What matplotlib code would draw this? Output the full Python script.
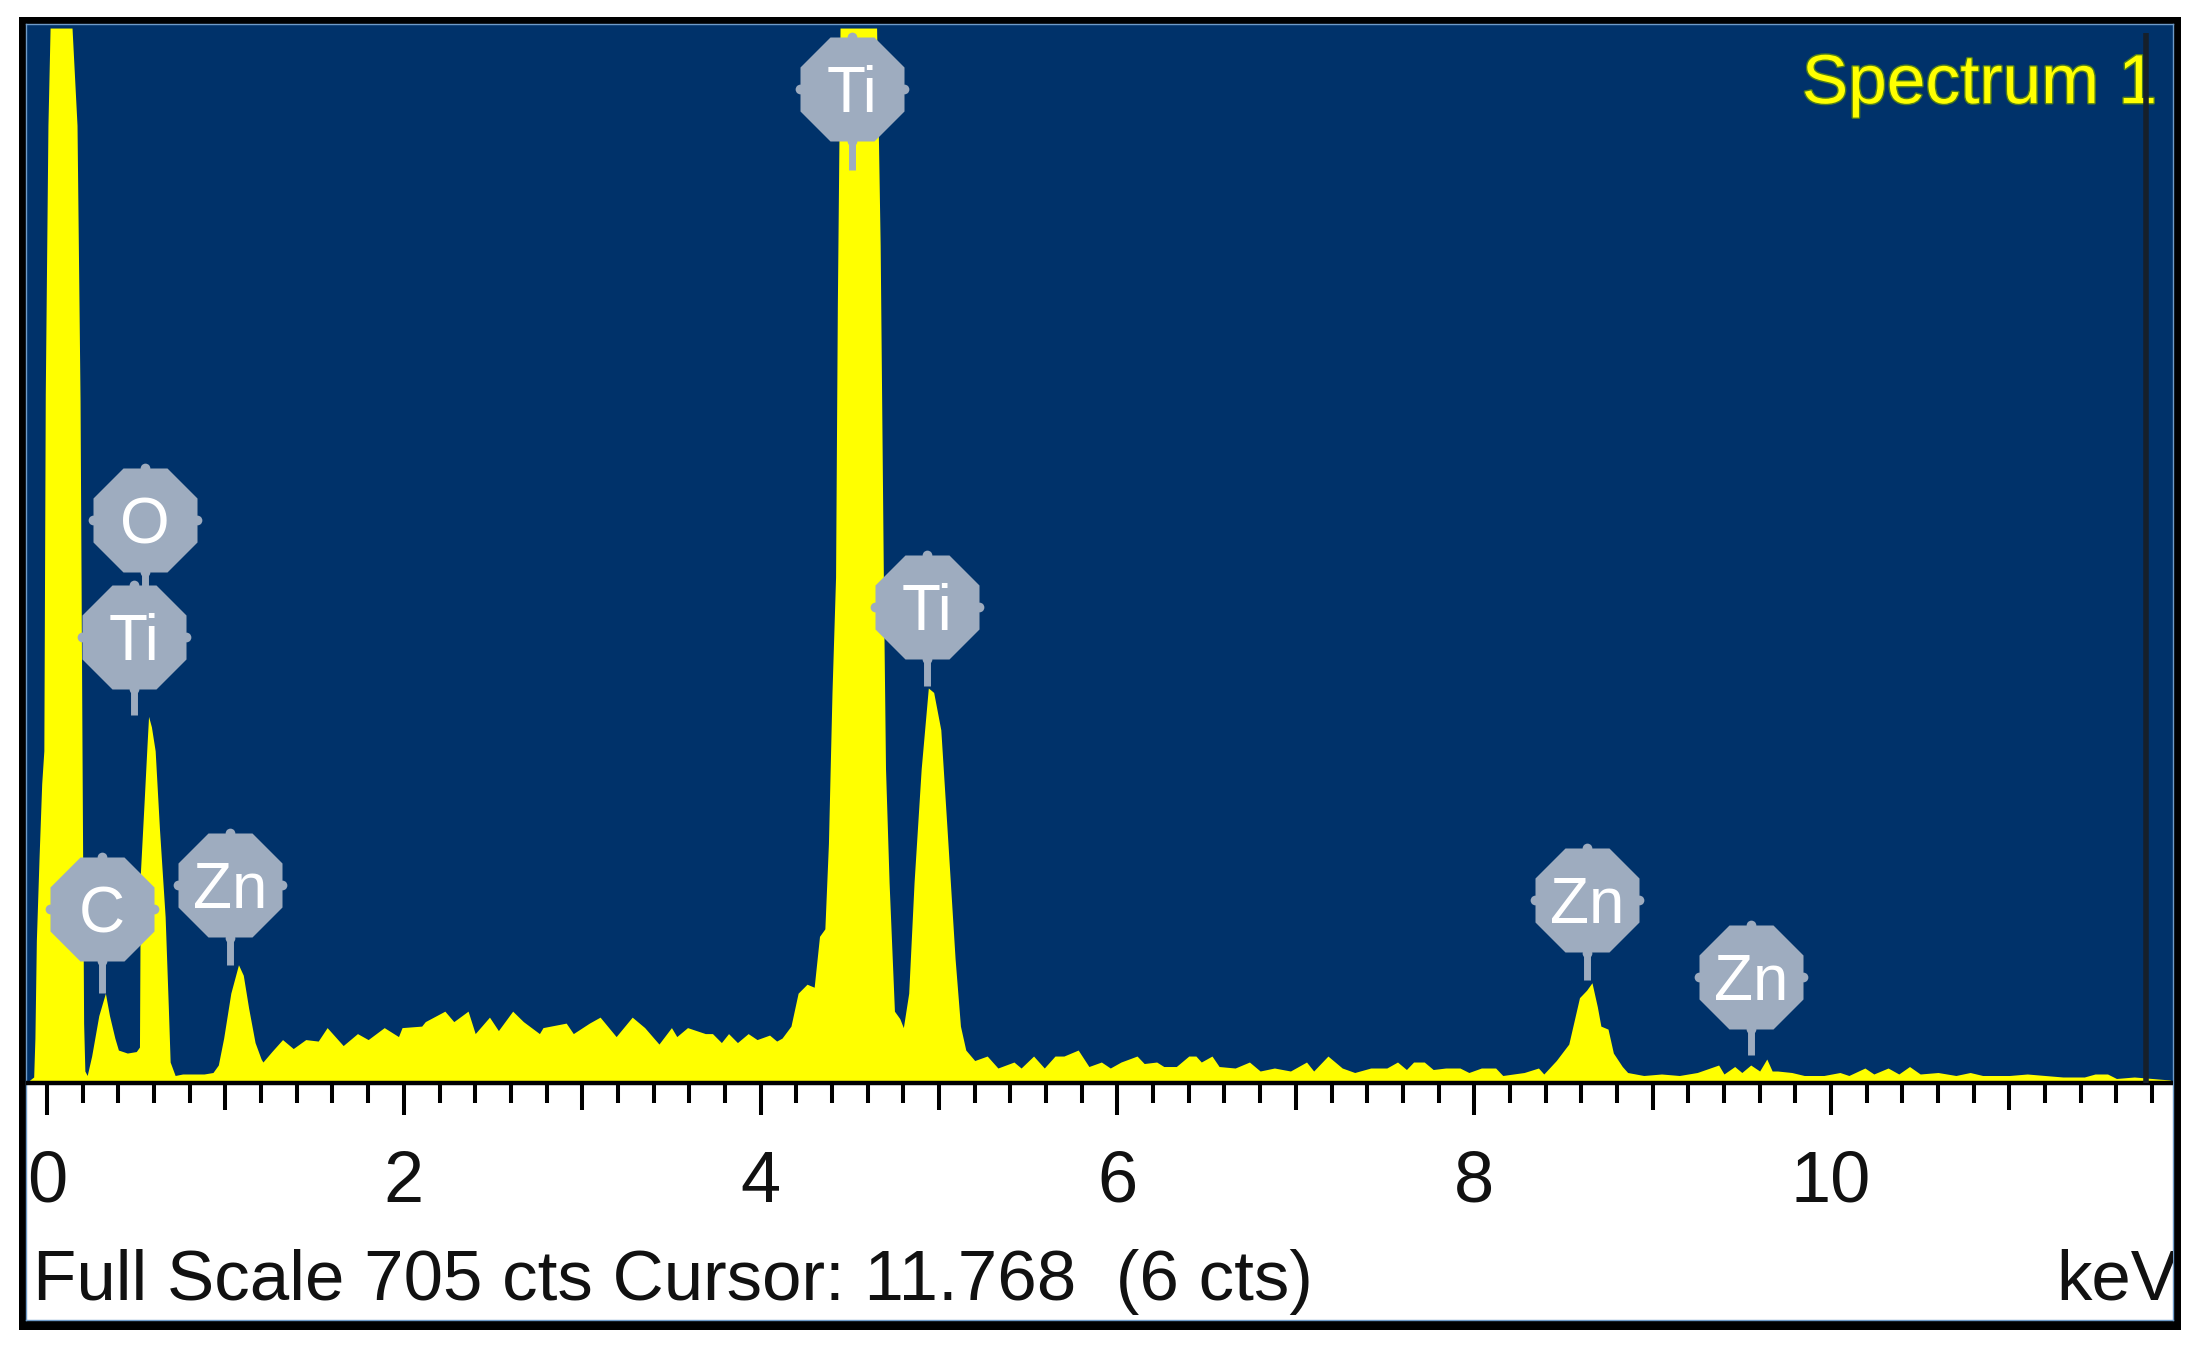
import matplotlib
matplotlib.use("Agg")

import matplotlib.pyplot as plt
import matplotlib.patheffects as pe
from matplotlib.patches import Rectangle
from matplotlib.transforms import offset_copy
import numpy as np

plt.rcParams["font.family"] = ["Liberation Sans", "DejaVu Sans"]

# EDS spectrum (keV, counts); display clips at full scale
energy_kev = [
    -0.118, -0.075, -0.068, -0.060, -0.045, -0.030, -0.018, -0.010, 0.005, 0.017,
    0.140, 0.168, 0.185, 0.196, 0.205, 0.212, 0.225, 0.250, 0.290, 0.327,
    0.350, 0.380, 0.400, 0.450, 0.500, 0.518, 0.523, 0.545, 0.560, 0.569,
    0.585, 0.606, 0.630, 0.662, 0.680, 0.690, 0.718, 0.760, 0.820, 0.880,
    0.930, 0.960, 0.990, 1.030, 1.073, 1.100, 1.130, 1.166, 1.200, 1.210,
    1.26, 1.32, 1.38, 1.45, 1.52, 1.57, 1.66, 1.74, 1.80, 1.89,
    1.97, 1.99, 2.10, 2.12, 2.23, 2.28, 2.36, 2.40, 2.48, 2.53,
    2.61, 2.67, 2.76, 2.78, 2.91, 2.95, 3.04, 3.10, 3.19, 3.28,
    3.35, 3.43, 3.50, 3.53, 3.59, 3.69, 3.73, 3.78, 3.82, 3.87,
    3.93, 3.98, 4.05, 4.09, 4.12, 4.17, 4.21, 4.26, 4.30, 4.33,
    4.36, 4.38, 4.40, 4.42, 4.43, 4.445, 4.65, 4.67, 4.69, 4.70,
    4.72, 4.75, 4.78, 4.80, 4.83, 4.86, 4.90, 4.94, 4.97, 5.01,
    5.05, 5.09, 5.12, 5.15, 5.20, 5.27, 5.33, 5.42, 5.46, 5.53,
    5.59, 5.65, 5.70, 5.78, 5.84, 5.91, 5.96, 6.02, 6.11, 6.15,
    6.22, 6.26, 6.33, 6.40, 6.44, 6.47, 6.53, 6.57, 6.66, 6.74,
    6.80, 6.88, 6.97, 7.06, 7.10, 7.18, 7.26, 7.33, 7.42, 7.51,
    7.57, 7.62, 7.66, 7.72, 7.77, 7.84, 7.92, 7.97, 8.04, 8.12,
    8.16, 8.28, 8.36, 8.39, 8.46, 8.53, 8.59, 8.63, 8.66, 8.69,
    8.71, 8.75, 8.78, 8.83, 8.86, 8.95, 9.05, 9.15, 9.25, 9.37,
    9.40, 9.46, 9.50, 9.55, 9.60, 9.64, 9.67, 9.70, 9.78, 9.85,
    9.96, 10.05, 10.10, 10.19, 10.24, 10.32, 10.38, 10.44, 10.50, 10.60,
    10.70, 10.78, 10.85, 11.00, 11.10, 11.20, 11.30, 11.42, 11.48, 11.55,
    11.60, 11.70, 11.80, 11.90, 11.917,
]
counts = [
    0, 4, 30, 95, 150, 200, 222, 460, 640, 705,
    705, 640, 456, 222, 40, 8, 5, 18, 45, 60,
    45, 30, 22, 20, 21, 24, 140, 190, 225, 245,
    238, 222, 170, 111, 50, 14, 5, 6, 6, 6,
    7, 12, 30, 60, 79, 72, 50, 27, 16, 14,
    21, 29, 23, 29, 28, 37, 25, 33, 29, 37,
    31, 37, 38, 41, 48, 41, 48, 33, 44, 35,
    48, 41, 33, 37, 40, 33, 40, 44, 31, 44,
    37, 26, 37, 31, 37, 33, 33, 27, 33, 27,
    33, 29, 32, 28, 30, 38, 60, 66, 64, 98,
    103, 160, 261, 338, 520, 705, 705, 560, 312, 210,
    134, 48, 43, 37, 60, 134, 210, 264, 261, 236,
    160, 83, 38, 22, 15, 18, 10, 14, 10, 18,
    10, 18, 18, 22, 11, 14, 10, 14, 18, 13,
    14, 11, 11, 18, 18, 14, 18, 11, 10, 14,
    8, 10, 8, 14, 8, 18, 10, 7, 10, 10,
    14, 9, 14, 14, 9, 10, 10, 7, 10, 10,
    5, 7, 10, 6, 15, 26, 57, 62, 67, 51,
    38, 36, 20, 11, 7, 5, 6, 5, 7, 12,
    6, 11, 7, 12, 8, 16, 8, 8, 7, 5,
    5, 7, 5, 10, 6, 10, 6, 11, 6, 7,
    5, 7, 5, 5, 6, 5, 4, 4, 6, 6,
    3, 4, 3, 2, 0,
]

FULL_SCALE = 705
CURSOR_KEV = 11.768
CURSOR_CTS = 6

# element badges: label, energy, badge centre (cts), stem tip (cts)
badge_labels = ["C", "O", "Ti", "Zn", "Ti", "Ti", "Zn", "Zn"]
badge_kev = [0.307, 0.549, 0.488, 1.026, 4.511, 4.933, 8.632, 9.552]
badge_cts = [116, 376, 298, 132, 664, 318, 122, 71]
stem_tip_cts = [60, 298, 246, 79, 610, 265, 69, 19]

tick_label_kev = [0, 2, 4, 6, 8, 10]
tick_labels = ["0", "2", "4", "6", "8", "10"]

BLUE = "#00326a"
YELLOW = "#ffff00"
BADGE = "#9eacbf"

W, H = 2197, 1347
XMIN, XMAX = -0.118, 11.917
YMIN, YMAX = -158.4, 707.7

fig = plt.figure(figsize=(W / 100, H / 100), dpi=100)
fig.patch.set_facecolor("white")

# black frame round the panel
fig.add_artist(Rectangle((19 / W, 1 - 1330 / H), (2181 - 19) / W, (1330 - 17) / H,
                         transform=fig.transFigure, facecolor="black",
                         edgecolor="none", zorder=-1))

ax = fig.add_axes([26 / W, 1 - 1320 / H, (2173 - 26) / W, (1320 - 24) / H])
ax.set_facecolor(BLUE)
ax.set_xlim(XMIN, XMAX)
ax.set_ylim(YMIN, YMAX)
ax.set_xticks([])
ax.set_yticks([])
for sp in ax.spines.values():
    sp.set_color("#6f9bc8")
    sp.set_linewidth(1)

# white scale strip under the spectrum
ax.axhspan(YMIN, 0, color="white", lw=0, zorder=1)

ax.fill_between(energy_kev, 0, counts, color=YELLOW, lw=0, zorder=2)

# cursor
ax.vlines(CURSOR_KEV, 0, 702, color="#16202a", lw=4, zorder=6)

# baseline and ticks every 0.2 keV
ax.axhline(0, color="black", lw=3.2, zorder=4)
tick_pos = np.arange(0, 11.81, 0.2)
tick_len = [21.4 if i % 10 == 0 else 18 if i % 5 == 0 else 13.4 for i in range(len(tick_pos))]
ax.vlines(tick_pos, -np.array(tick_len), 0, color="black", lw=2.9, zorder=4)

for k, lbl in zip(tick_label_kev, tick_labels):
    ax.text(k, -79.5, lbl, ha="center", va="baseline", fontsize=52,
            color="#111111", zorder=5, clip_on=True)

ax.text(-0.078, -145, f"Full Scale {FULL_SCALE} cts Cursor: {CURSOR_KEV:.3f}  ({CURSOR_CTS} cts)",
        ha="left", va="baseline", fontsize=51, color="#111111", zorder=5, clip_on=True)
ax.text(11.945, -145, "keV", ha="right", va="baseline", fontsize=51,
        color="#111111", zorder=5, clip_on=True)

ax.text(11.83, 654.8, "Spectrum 1", ha="right", va="baseline", fontsize=50,
        color=YELLOW, zorder=5,
        path_effects=[pe.withStroke(linewidth=2, foreground="#4f7d1c")])

# element badges with stems
fs = 46
for lbl, k, c, tip in zip(badge_labels, badge_kev, badge_cts, stem_tip_cts):
    ax.plot([k, k], [c, tip], color=BADGE, lw=5, solid_capstyle="butt", zorder=7)
    ax.plot(k, c, marker="8", ms=81, color=BADGE, mec="none", zorder=8)
    for dx, dy in [(0, 37.5), (0, -37.5), (37.5, 0), (-37.5, 0)]:
        ax.plot(k, c, marker="o", ms=7, color=BADGE, mec="none", zorder=8,
                transform=offset_copy(ax.transData, fig, x=dx, y=dy, units="points"))
    ax.text(k, c, lbl, ha="center", va="baseline", fontsize=fs, color="white", zorder=9,
            transform=offset_copy(ax.transData, fig, y=-0.358 * fs, units="points"))

fig.savefig("out.png", dpi=100)
plt.close(fig)
